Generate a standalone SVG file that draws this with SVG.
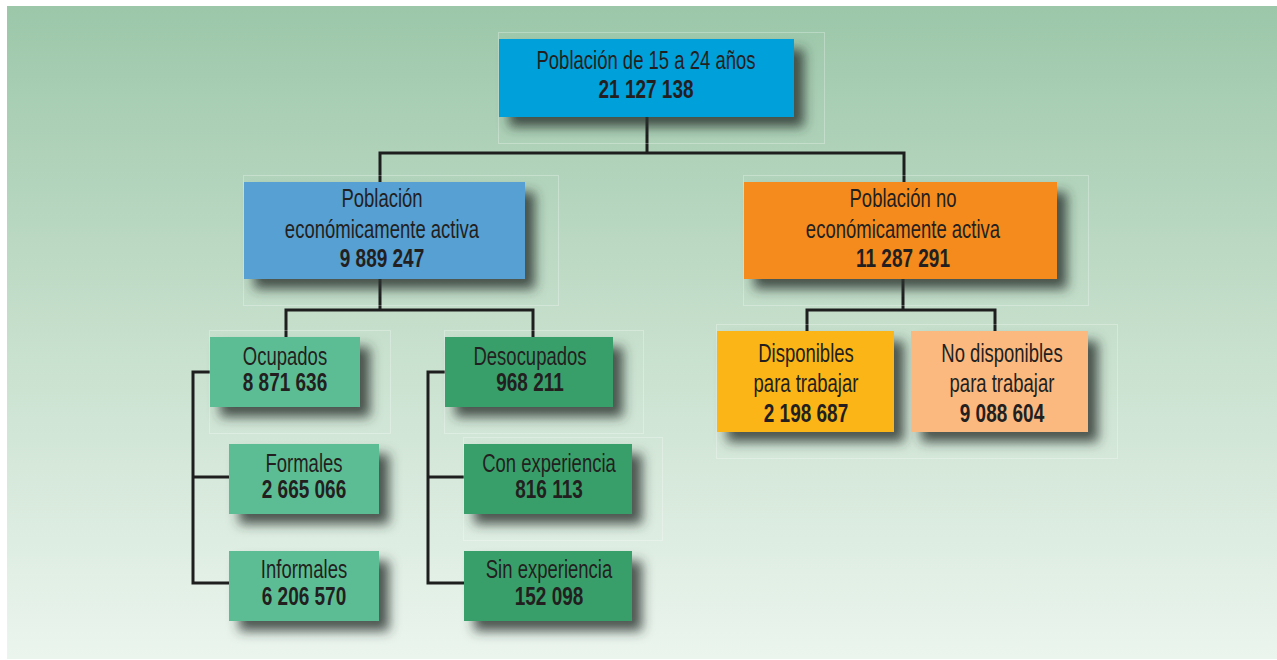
<svg xmlns="http://www.w3.org/2000/svg" width="1277" height="660" viewBox="0 0 1277 660">
  <defs>
    <linearGradient id="bg" x1="0" y1="0" x2="0" y2="1">
      <stop offset="0" stop-color="#9cc7a9"/>
      <stop offset="0.5" stop-color="#c6dfcc"/>
      <stop offset="1" stop-color="#ebf5ee"/>
    </linearGradient>
    <filter id="shadow" x="-20%" y="-30%" width="150%" height="180%">
      <feDropShadow dx="10" dy="10" stdDeviation="6" flood-color="#2a352d" flood-opacity="0.82"/>
    </filter>
  </defs>
  <style>
    .frame { fill: none; stroke: #ffffff; stroke-opacity: 0.28; stroke-width: 1; }
    .box { filter: url(#shadow); }
    .t { font-family: "Liberation Sans", Arial, sans-serif; font-size: 25px; fill: #231f20; text-anchor: middle; }
    .n { font-weight: bold; }
    .link { fill: none; stroke: #1e1e1e; stroke-width: 3; stroke-linejoin: miter; }
  </style>

  <!-- background panel -->
  <rect x="0" y="0" width="1277" height="660" fill="#ffffff"/>
  <rect x="7" y="6" width="1270" height="653" fill="url(#bg)"/>

  <!-- connectors -->
  <g id="connectors" class="link">
    <path d="M647 117 V153 M380 182 V153 H904 V182"/>
    <path d="M380 279 V310 M286 337 V310 H533 V337"/>
    <path d="M903 279 V310 M807 331 V310 H995 V331"/>
    <path d="M210 372 H193 V583 H229 M193 477 H229"/>
    <path d="M445 372 H428 V583 H464 M428 477 H464"/>
  </g>

  <!-- labels are set in a condensed width: each text is placed by translate and narrowed by scale -->
  <g id="n-total">
    <rect class="frame" x="498.5" y="32.5" width="326" height="111"/>
    <rect class="box" x="499" y="39" width="295" height="78" fill="#00a0db"/>
    <text class="t" transform="translate(646 69) scale(0.74 1)">Población de 15 a 24 años</text>
    <text class="t n" transform="translate(646 98) scale(0.76 1)">21 127 138</text>
  </g>

  <g id="n-pea">
    <rect class="frame" x="243.5" y="175.5" width="315" height="130"/>
    <rect class="box" x="244" y="182" width="281" height="97" fill="#56a0d3"/>
    <text class="t" transform="translate(382 207) scale(0.74 1)">Población</text>
    <text class="t" transform="translate(382 238) scale(0.74 1)">económicamente activa</text>
    <text class="t n" transform="translate(382 267) scale(0.76 1)">9 889 247</text>
  </g>

  <g id="n-pnea">
    <rect class="frame" x="743.5" y="175.5" width="345" height="130"/>
    <rect class="box" x="744" y="182" width="313" height="97" fill="#f58b1f"/>
    <text class="t" transform="translate(903 207) scale(0.74 1)">Población no</text>
    <text class="t" transform="translate(903 238) scale(0.74 1)">económicamente activa</text>
    <text class="t n" transform="translate(903 267) scale(0.76 1)">11 287 291</text>
  </g>

  <g id="n-ocupados">
    <rect class="frame" x="209.5" y="330.5" width="181" height="103"/>
    <rect class="box" x="210" y="337" width="150" height="70" fill="#5bbd95"/>
    <text class="t" transform="translate(285 365) scale(0.74 1)">Ocupados</text>
    <text class="t n" transform="translate(285 391) scale(0.76 1)">8 871 636</text>
  </g>

  <g id="n-formales">
    <rect class="box" x="229" y="444" width="150" height="70" fill="#5bbd95"/>
    <text class="t" transform="translate(304 472) scale(0.74 1)">Formales</text>
    <text class="t n" transform="translate(304 498) scale(0.76 1)">2 665 066</text>
  </g>

  <g id="n-informales">
    <rect class="box" x="229" y="551" width="150" height="70" fill="#5bbd95"/>
    <text class="t" transform="translate(304 578) scale(0.74 1)">Informales</text>
    <text class="t n" transform="translate(304 605) scale(0.76 1)">6 206 570</text>
  </g>

  <g id="n-desocupados">
    <rect class="frame" x="444.5" y="330.5" width="199" height="103"/>
    <rect class="box" x="445" y="337" width="168" height="70" fill="#379f6b"/>
    <text class="t" transform="translate(530 365) scale(0.74 1)">Desocupados</text>
    <text class="t n" transform="translate(530 391) scale(0.76 1)">968 211</text>
  </g>

  <g id="n-con-experiencia">
    <rect class="frame" x="463.5" y="437.5" width="199" height="103"/>
    <rect class="box" x="464" y="444" width="168" height="70" fill="#379f6b"/>
    <text class="t" transform="translate(549 472) scale(0.74 1)">Con experiencia</text>
    <text class="t n" transform="translate(549 498) scale(0.76 1)">816 113</text>
  </g>

  <g id="n-sin-experiencia">
    <rect class="box" x="464" y="551" width="168" height="70" fill="#379f6b"/>
    <text class="t" transform="translate(549 578) scale(0.74 1)">Sin experiencia</text>
    <text class="t n" transform="translate(549 605) scale(0.76 1)">152 098</text>
  </g>

  <g id="n-disponibles">
    <rect class="frame" x="716.5" y="324.5" width="401" height="134"/>
    <rect class="box" x="717" y="331" width="177" height="101" fill="#fbb515"/>
    <text class="t" transform="translate(806 362) scale(0.74 1)">Disponibles</text>
    <text class="t" transform="translate(806 392) scale(0.74 1)">para trabajar</text>
    <text class="t n" transform="translate(806 422) scale(0.76 1)">2 198 687</text>
  </g>

  <g id="n-no-disponibles">
    <rect class="box" x="911" y="331" width="177" height="101" fill="#fbb97f"/>
    <text class="t" transform="translate(1002 362) scale(0.74 1)">No disponibles</text>
    <text class="t" transform="translate(1002 392) scale(0.74 1)">para trabajar</text>
    <text class="t n" transform="translate(1002 422) scale(0.76 1)">9 088 604</text>
  </g>
</svg>
